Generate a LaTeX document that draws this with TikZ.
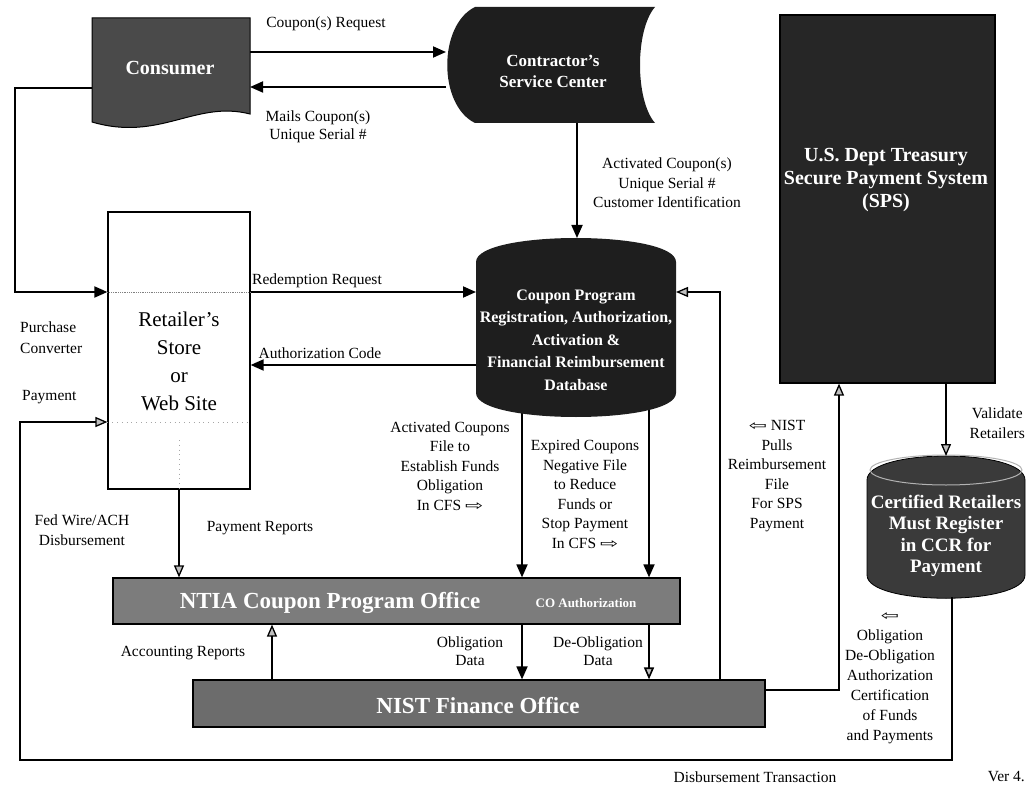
\documentclass[tikz,border=0pt]{standalone}
\usepackage{fontspec}
\setmainfont{Liberation Serif}
\newfontfamily\symf{DejaVu Sans}
\usetikzlibrary{arrows.meta}
\pgfdeclarelayer{bg}
\pgfsetlayers{bg,main}
\definecolor{consfill}{HTML}{4A4A4A}
\definecolor{darkfill}{HTML}{1E1E1E}
\definecolor{spsfill}{HTML}{262626}
\definecolor{certfill}{HTML}{3A3A3A}
\definecolor{ntiafill}{HTML}{7C7C7C}
\definecolor{nistfill}{HTML}{6C6C6C}
\newcommand{\rarr}{{\symf\scalebox{1.4}[0.9]{⇨}}}
\newcommand{\larr}{{\symf\scalebox{1.4}[0.9]{⇦}}}
\begin{document}
\begin{tikzpicture}[x=1pt,y=-1pt,
  conn/.style={line width=1.8pt,-{Triangle[length=13pt,width=11pt]}},
  gconn/.style={line width=1.3pt,-{Triangle[length=12pt,width=10pt,fill=gray!50]}},
  lab/.style={font=\fontsize{15.5}{19.5}\selectfont,align=center,inner sep=0pt},
  wtxt/.style={text=white,align=center,inner sep=0pt},
  boxshape/.style={rectangle,inner sep=0pt,draw=black,line width=1.2pt}]
\useasboundingbox (0,0) rectangle (1027,791);

% ---------- shapes ----------
% Consumer (document)
\fill[consfill,draw=black,line width=1pt] (92,18) -- (250,18) -- (250,114)
  .. controls (195,100) and (160,142) .. (92,122) -- cycle;
\node[wtxt,font=\fontsize{20}{24}\selectfont\bfseries] (cons) at (170,68) {Consumer};
\coordinate (cons-e1) at (250,52);
\coordinate (cons-e2) at (250,87);
\coordinate (cons-w) at (92,88);

% Contractor's Service Center (stored data)
\fill[darkfill] (475,7) -- (655,7) .. controls (635,30) and (635,100) .. (655,123)
  -- (475,123) .. controls (438,105) and (438,25) .. (475,7) -- cycle;
\node[wtxt,font=\fontsize{17}{21}\selectfont\bfseries] (ctr) at (553,71) {Contractor’s\\Service Center};
\coordinate (ctr-w1) at (446,52);
\coordinate (ctr-w2) at (446,87);
\coordinate (ctr-s) at (577,123);

% Database cylinder
\fill[darkfill] (476,262) .. controls (476,230) and (676,230) .. (676,262) -- (676,393)
  .. controls (676,425) and (476,425) .. (476,393) -- cycle;
\node[wtxt,font=\fontsize{16}{22.5}\selectfont\bfseries] (db) at (576,340)
  {Coupon Program\\Registration, Authorization,\\Activation \&\\Financial Reimbursement\\Database};
\coordinate (db-n) at (577,238);
\coordinate (db-w1) at (476,292);
\coordinate (db-w2) at (476,365);
\coordinate (db-e1) at (676,292);
\coordinate (dbc) at (576,360);

% Retailer box
\node[boxshape,fill=white,minimum width=142pt,minimum height=277pt] (ret) at (179,350.5) {};
\node[font=\fontsize{21}{28}\selectfont,align=center,inner sep=0pt] (retT) at (179,361)
  {Retailer’s\\Store\\or\\Web Site};
\draw[densely dotted,gray,line width=0.8pt] (ret.west |- db-w1) -- (ret.east |- db-w1);
\coordinate (L2) at (20,422);
\draw[loosely dotted,gray!70,line width=0.8pt] (ret.west |- L2) -- (ret.east |- L2);
\draw[loosely dotted,gray!70,line width=0.8pt] (179,440) -- (ret.south);

% SPS box
\node[boxshape,fill=spsfill,minimum width=215pt,minimum height=368pt] (sps) at (887.5,199) {};
\node[wtxt,font=\fontsize{20}{23}\selectfont\bfseries] (spsT) at (886,180)
  {U.S. Dept Treasury\\Secure Payment System\\(SPS)};

% Certified retailers cylinder
\fill[certfill,draw=black,line width=0.8pt] (867,480) .. controls (867,448) and (1025,448) .. (1025,480)
  -- (1025,575) .. controls (1025,606) and (867,606) .. (867,575) -- cycle;
\draw[gray!60,line width=1pt] (946,470) ellipse [x radius=76, y radius=15];
\node[wtxt,font=\fontsize{19}{21.5}\selectfont\bfseries] (cert) at (946,536)
  {Certified Retailers\\Must Register\\in CCR for\\Payment};
\coordinate (cert-n) at (946,456);
\coordinate (cert-s) at (952,597);

% NTIA and NIST offices
\node[boxshape,fill=ntiafill,minimum width=567pt,minimum height=46pt] (ntia) at (396.5,601) {};
\node[wtxt,font=\fontsize{23}{26}\selectfont\bfseries] (ntiaT) at (330,603) {NTIA Coupon Program Office};
\node[wtxt,font=\fontsize{13}{15}\selectfont\bfseries] (coauth) at (586,603) {CO Authorization};
\node[boxshape,fill=nistfill,minimum width=572pt,minimum height=47pt] (nist) at (479,703.5) {};
\node[wtxt,font=\fontsize{23}{26}\selectfont\bfseries] (nistT) at (478,706) {NIST Finance Office};

% ---------- helper x positions ----------
\coordinate (xA) at (522,0);
\coordinate (xB) at (649,0);
\coordinate (xP) at (720,0);
\coordinate (xAcc) at (272,0);
\coordinate (xS) at (839,0);
\coordinate (xV) at (946,0);
\coordinate (L1) at (15,292);
\coordinate (bot) at (0,760);
\coordinate (nist-e) at (765,690);

% ---------- connectors ----------
\begin{pgfonlayer}{bg}
\draw[conn] (xA |- dbc) -- (xA |- ntia.north);
\draw[conn] (xB |- dbc) -- (xB |- ntia.north);
\end{pgfonlayer}
\draw[conn] (xA |- ntia.south) -- (xA |- nist.north);
\draw[gconn,line width=1.6pt] (xB |- ntia.south) -- (xB |- nist.north);

\draw[conn] (cons-e1) -- (ctr-w1);
\draw[conn] (ctr-w2) -- (cons-e2);
\draw[conn] (ctr-s) -- (db-n);
\draw[conn] (cons-w) -| (L1) -- (ret.west |- L1);
\draw[conn] (ret.east |- db-w1) -- (db-w1);
\draw[conn] (db-w2) -- (ret.east |- db-w2);
\draw[gconn] (xP |- nist.north) -- (xP |- db-e1) -- (db-e1);
\draw[gconn] (nist-e) -| (xS |- sps.south);
\draw[gconn] (xV |- sps.south) -- (cert-n);
\draw[gconn] (cert-s) -- (cert-s |- bot) -| (L2) -- (ret.west |- L2);
\draw[gconn] (ret.south) -- (ret.south |- ntia.north);
\draw[gconn] (xAcc |- nist.north) -- (xAcc |- ntia.south);

% ---------- labels ----------
\node[lab] (lcr) at (326,24) {Coupon(s) Request};
\node[lab,font=\fontsize{15.5}{18}\selectfont] (lmail) at (318,127) {Mails Coupon(s)\\Unique Serial \#};
\node[lab] (lact) at (667,183) {Activated Coupon(s)\\Unique Serial \#\\Customer Identification};
\node[lab] (lred) at (317,281) {Redemption Request};
\node[lab] (lauth) at (320,353) {Authorization Code};
\node[lab,align=left,anchor=west,font=\fontsize{15.5}{21}\selectfont] (lpc) at (20,338) {Purchase\\Converter};
\node[lab,anchor=west] (lpay) at (22,397) {Payment};
\node[lab,font=\fontsize{15.5}{20}\selectfont] (lfed) at (82,530) {Fed Wire/ACH\\Disbursement};
\node[lab] (lpr) at (260,528) {Payment Reports};
\node[lab] (lacc) at (183,653) {Accounting Reports};
\node[lab,font=\fontsize{15.5}{18}\selectfont] (lob) at (470,651) {Obligation\\Data};
\node[lab,font=\fontsize{15.5}{18}\selectfont] (ldeob) at (598,651) {De-Obligation\\Data};
\node[lab] (lacf) at (450,466) {Activated Coupons\\File to\\Establish Funds\\Obligation\\In CFS \rarr};
\node[lab] (lexp) at (585,494) {Expired Coupons\\Negative File\\to Reduce\\Funds or\\Stop Payment\\In CFS \rarr};
\node[lab] (lpull) at (777,476) {\larr{} NIST\\Pulls\\Reimbursement\\File\\For SPS\\Payment};
\node[lab,font=\fontsize{15.5}{20}\selectfont,anchor=east] (lval) at (1025,423) {Validate\\Retailers};
\node[lab,font=\fontsize{15.5}{20}\selectfont] (lobl) at (890,678) {\larr\\Obligation\\De-Obligation\\Authorization\\Certification\\of Funds\\and Payments};
\node[lab] (ldis) at (755,777) {Disbursement Transaction};
\node[lab,anchor=east] (lver) at (1025,777) {Ver 4.};
\end{tikzpicture}
\end{document}
